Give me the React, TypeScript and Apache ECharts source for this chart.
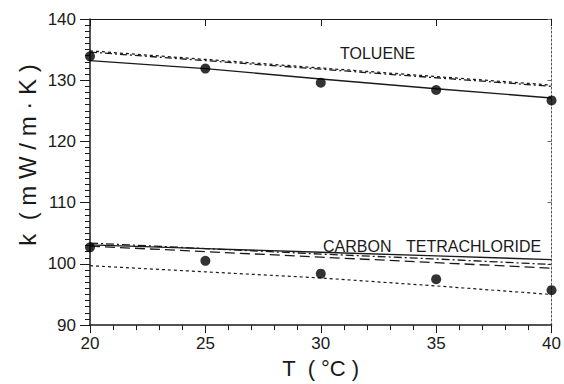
import React, { useEffect, useRef } from "react";
import * as echarts from "echarts";

const temps = [20, 25, 30, 35, 40];
const xTicks = [20, 25, 30, 35, 40];
const yTicks = [90, 100, 110, 120, 130, 140];

const tolueneExp = [133.9, 131.9, 129.6, 128.4, 126.7];
const tolueneSolid = [133.2, 131.9, 130.2, 128.6, 127.1];
const tolueneDash = [134.8, 133.4, 132.0, 130.6, 129.2];
const tolueneDashDot = [134.6, 133.2, 131.8, 130.4, 129.0];

const cclExp = [102.7, 100.5, 98.4, 97.5, 95.7];
const cclSolid = [103.1, 102.5, 101.9, 101.3, 100.7];
const cclDashDot = [103.4, 102.5, 101.6, 100.8, 99.9];
const cclLongDash = [102.9, 102.0, 101.1, 100.2, 99.3];
const cclShortDash = [99.7, 98.7, 97.7, 96.4, 95.0];

const FONT = "Liberation Sans, Arial, sans-serif";
const INK = "#1a1a1a";

const pairs = (ys: number[]) => temps.map((t, i) => [t, ys[i]]);

function lineSeries(name: string, ys: number[], type: any, width = 1.3) {
  return {
    name,
    type: "line",
    data: pairs(ys),
    showSymbol: false,
    symbol: "none",
    lineStyle: { color: INK, width, type },
    z: 2,
  };
}

export default function App() {
  const ref = useRef<HTMLDivElement>(null);
  useEffect(() => {
    if (!ref.current) return;
    const chart = echarts.init(ref.current, undefined, { renderer: "svg" });
    chart.setOption({
      animation: false,
      backgroundColor: "#ffffff",
      grid: { left: 90, right: 8, top: 19, bottom: 56, containLabel: false },
      xAxis: [
        {
          type: "value",
          min: xTicks[0],
          max: xTicks[xTicks.length - 1],
          interval: 5,
          position: "bottom",
          name: "T  ( °C )",
          nameLocation: "middle",
          nameGap: 27,
          nameTextStyle: { fontFamily: FONT, fontSize: 22, color: INK },
          axisLine: { show: true, lineStyle: { color: INK, width: 1.5 } },
          axisTick: { show: true, inside: false, length: 8, lineStyle: { color: INK } },
          minorTick: { show: true, splitNumber: 5, length: 5, lineStyle: { color: INK } },
          axisLabel: { fontFamily: FONT, fontSize: 17, color: INK, margin: 10 },
          splitLine: { show: false },
        },
        {
          type: "value",
          min: xTicks[0],
          max: xTicks[xTicks.length - 1],
          interval: 5,
          position: "top",
          axisLine: { show: true, lineStyle: { color: INK, width: 1.2 } },
          axisTick: { show: true, inside: true, length: 7, lineStyle: { color: INK } },
          axisLabel: { show: false },
          splitLine: { show: false },
        },
      ],
      yAxis: [
        {
          type: "value",
          min: yTicks[0],
          max: yTicks[yTicks.length - 1],
          interval: 10,
          position: "left",
          axisLine: { show: true, lineStyle: { color: INK, width: 1.5 } },
          axisTick: { show: true, inside: false, length: 10, lineStyle: { color: INK } },
          minorTick: { show: true, splitNumber: 10, length: 5, lineStyle: { color: INK } },
          axisLabel: { fontFamily: FONT, fontSize: 17, color: INK, margin: 14 },
          splitLine: { show: false },
        },
        {
          type: "value",
          min: yTicks[0],
          max: yTicks[yTicks.length - 1],
          interval: 10,
          position: "right",
          axisLine: { show: true, lineStyle: { color: "#555555", width: 1, type: [2, 2] } },
          axisTick: { show: true, inside: true, length: 4, lineStyle: { color: "#666666" } },
          axisLabel: { show: false },
          splitLine: { show: false },
        },
      ],
      graphic: [
        {
          type: "text",
          x: 27,
          y: 155,
          rotation: Math.PI / 2,
          style: {
            text: "k  ( m W / m · K )",
            fontFamily: FONT,
            fontSize: 24,
            fill: INK,
            align: "center",
            verticalAlign: "middle",
          },
        },
        {
          type: "text",
          x: 340,
          y: 53,
          style: { text: "TOLUENE", fontFamily: FONT, fontSize: 16, fill: INK, align: "left", verticalAlign: "middle" },
        },
        {
          type: "text",
          x: 323,
          y: 246,
          style: { text: "CARBON", fontFamily: FONT, fontSize: 16, fill: INK, align: "left", verticalAlign: "middle" },
        },
        {
          type: "text",
          x: 406,
          y: 246,
          style: { text: "TETRACHLORIDE", fontFamily: FONT, fontSize: 16, fill: INK, align: "left", verticalAlign: "middle" },
        },
      ],
      series: [
        lineSeries("Toluene model 1", tolueneSolid, "solid", 1.4),
        lineSeries("Toluene model 2", tolueneDash, [3, 3], 1.3),
        lineSeries("Toluene model 3", tolueneDashDot, [7, 3, 2, 3], 1.3),
        lineSeries("CCl4 model 1", cclSolid, "solid", 1.4),
        lineSeries("CCl4 model 3", cclDashDot, [8, 3, 2, 3], 1.3),
        lineSeries("CCl4 model 4", cclLongDash, [10, 5], 1.3),
        lineSeries("CCl4 model 2", cclShortDash, [3, 3], 1.2),
        {
          name: "Toluene experimental",
          type: "scatter",
          data: pairs(tolueneExp),
          symbol: "circle",
          symbolSize: 10,
          itemStyle: { color: "#000" },
          z: 3,
        },
        {
          name: "CCl4 experimental",
          type: "scatter",
          data: pairs(cclExp),
          symbol: "circle",
          symbolSize: 10,
          itemStyle: { color: "#000" },
          z: 3,
        },
      ],
    });
    return () => chart.dispose();
  }, []);
  return (
    <div
      ref={ref}
      style={{ position: "fixed", left: 0, top: 0, width: 564, height: 384 }}
    />
  );
}
